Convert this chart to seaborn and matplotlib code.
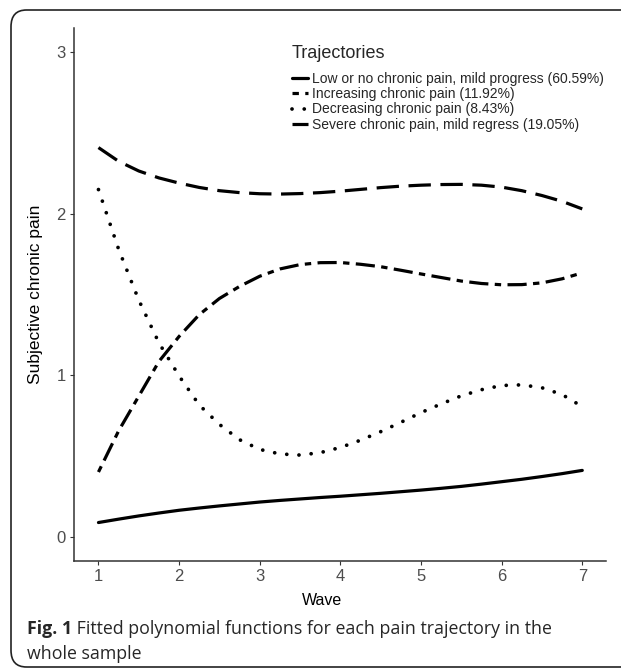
import numpy as np
import pandas as pd
import matplotlib
matplotlib.use('Agg')
import matplotlib.pyplot as plt
import seaborn as sns
from matplotlib.lines import Line2D
from matplotlib.patches import FancyBboxPatch

# fitted curves, quarter-wave steps
wave = [1, 1.25, 1.5, 1.75, 2, 2.25, 2.5, 2.75, 3, 3.25, 3.5, 3.75, 4,
        4.25, 4.5, 4.75, 5, 5.25, 5.5, 5.75, 6, 6.25, 6.5, 6.75, 7]
low = [0.087, 0.108, 0.128, 0.146, 0.163, 0.177, 0.19, 0.202, 0.214, 0.224,
       0.233, 0.242, 0.25, 0.259, 0.268, 0.278, 0.288, 0.299, 0.311, 0.325,
       0.34, 0.355, 0.372, 0.39, 0.41]
increasing = [0.40, 0.655, 0.87, 1.085, 1.24, 1.375, 1.475, 1.55, 1.613, 1.658,
              1.685, 1.697, 1.698, 1.687, 1.672, 1.65, 1.627, 1.605, 1.583,
              1.568, 1.56, 1.561, 1.572, 1.597, 1.634]
decreasing = [2.15, 1.78, 1.465, 1.20, 0.995, 0.815, 0.695, 0.60, 0.54, 0.512,
              0.505, 0.52, 0.552, 0.597, 0.65, 0.708, 0.768, 0.822, 0.872,
              0.91, 0.936, 0.94, 0.922, 0.88, 0.805]
severe = [2.41, 2.325, 2.265, 2.222, 2.19, 2.163, 2.143, 2.131, 2.124, 2.122,
          2.125, 2.131, 2.14, 2.151, 2.162, 2.171, 2.177, 2.181, 2.182, 2.177,
          2.165, 2.143, 2.113, 2.077, 2.03]

labels = ['Low or no chronic pain, mild progress (60.59%)',
          'Increasing chronic pain (11.92%)',
          'Decreasing chronic pain (8.43%)',
          'Severe chronic pain, mild regress (19.05%)']
x_ticks = [1, 2, 3, 4, 5, 6, 7]
y_ticks = [0, 1, 2, 3]

sns.set_style('white')
plt.rcParams['font.family'] = ['Liberation Sans', 'DejaVu Sans']

fig = plt.figure(figsize=(6.21, 6.70), dpi=100)
ax = fig.add_axes([0.1196, 0.163, 0.857, 0.795])

styles = [
    dict(linestyle='-', linewidth=2.3),
    dict(linestyle=(0, (2, 2, 6, 2)), linewidth=2.3),
    dict(linestyle=(0, (0.01, 3.25)), dash_capstyle='round', linewidth=2.7),
    dict(linestyle=(0, (7, 3)), linewidth=2.3),
]
series = [low, increasing, decreasing, severe]

handles = []
for vals, st, lab in zip(series, styles, labels):
    df = pd.DataFrame({'wave': wave, 'pain': vals})
    sns.lineplot(data=df, x='wave', y='pain', ax=ax, color='black', **st)
    handles.append(Line2D([], [], color='black', **st))

ax.set_xlim(0.7, 7.3)
ax.set_ylim(-0.15, 3.15)
ax.set_xticks(x_ticks)
ax.set_yticks(y_ticks)
ax.tick_params(axis='both', direction='out', length=3, width=0.8,
               color='#333333', labelcolor='#4d4d4d', labelsize=12, pad=3)
ax.tick_params(left=True, bottom=True)
for s in ['top', 'right']:
    ax.spines[s].set_visible(False)
for s in ['left', 'bottom']:
    ax.spines[s].set_color('#333333')
    ax.spines[s].set_linewidth(1.1)

ax.set_xlabel('Wave', fontsize=11.5, color='black')
ax.set_ylabel('Subjective chronic pain', fontsize=12.5, color='black')
ax.xaxis.set_label_coords(0.465, -0.061)
ax.yaxis.set_label_coords(-0.059, 0.5)

leg = fig.legend(handles, labels, title='Trajectories', loc='upper left',
                 bbox_to_anchor=(292 / 621, 1 - 45 / 670), frameon=False,
                 fontsize=10, title_fontsize=13, alignment='left',
                 borderpad=0, borderaxespad=0, handlelength=1.15,
                 handletextpad=0.3, labelspacing=0.1)
leg._legend_box.sep = 7  # extra room under the title

# caption and journal frame
t1 = fig.text(27 / 621, 1 - 638 / 670, 'Fig. 1', fontsize=12.8, fontweight='bold',
              family='Open Sans', va='bottom')
ax.annotate(' Fitted polynomial functions for each pain trajectory in the',
            xy=(1, 0), xycoords=t1, va='bottom', ha='left', fontsize=12.8,
            family='Open Sans', annotation_clip=False)
fig.text(27 / 621, 1 - 663 / 670, 'whole sample', fontsize=12.8,
         family='Open Sans', va='bottom')

frame = FancyBboxPatch((11 / 621, 3 / 670), 1.1, 657 / 670,
                       boxstyle='round,pad=0,rounding_size=0.025',
                       transform=fig.transFigure, fill=False,
                       edgecolor='#222222', linewidth=1.2, clip_on=False)
fig.add_artist(frame)

fig.savefig('out.png', dpi=100)
